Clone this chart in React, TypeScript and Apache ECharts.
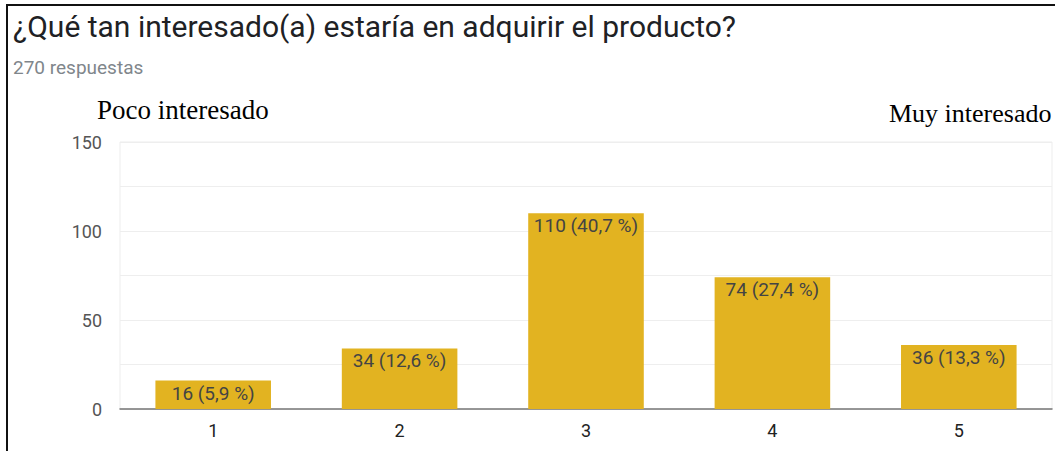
import React, { useEffect, useRef } from "react";
import * as echarts from "echarts";

const categories = ["1", "2", "3", "4", "5"];
const counts = [16, 34, 110, 74, 36];
const percents = ["5,9", "12,6", "40,7", "27,4", "13,3"];
const title = "¿Qué tan interesado(a) estaría en adquirir el producto?";
const subtitle = "270 respuestas";
const leftNote = "Poco interesado";
const rightNote = "Muy interesado";

export default function App() {
  const ref = useRef<HTMLDivElement>(null);
  useEffect(() => {
    const chart = echarts.init(ref.current!, null, { renderer: "svg" });
    chart.setOption({
      animation: false,
      backgroundColor: "#ffffff",
      grid: {
        left: 120,
        right: 3,
        top: 142,
        bottom: 42,
        show: true,
        borderColor: "#ededed",
        borderWidth: 1,
      },
      xAxis: {
        type: "category",
        data: categories,
        axisLine: { lineStyle: { color: "#777777", width: 1.5 } },
        axisTick: { show: false },
        axisLabel: {
          color: "#222222",
          fontSize: 18,
          fontFamily: "Roboto",
          margin: 12,
        },
      },
      yAxis: {
        type: "value",
        min: 0,
        max: 150,
        interval: 25,
        axisLine: { show: false },
        axisTick: { show: false },
        splitLine: { lineStyle: { color: "#eeeeee", width: 1 } },
        axisLabel: {
          color: "#555555",
          fontSize: 18,
          fontFamily: "Roboto",
          margin: 18,
          formatter: (v: number) => (v % 50 === 0 ? String(v) : ""),
        },
      },
      series: [
        {
          type: "bar",
          data: counts,
          barCategoryGap: "38%",
          itemStyle: { color: "#E2B321" },
          label: {
            show: true,
            position: "insideTop",
            distance: 3,
            color: "#444444",
            fontSize: 19,
            fontFamily: "Roboto",
            formatter: (p: any) => `${p.value} (${percents[p.dataIndex]} %)`,
          },
        },
      ],
      graphic: [
        {
          type: "line",
          shape: { x1: 7, y1: 5, x2: 1055, y2: 5 },
          style: { stroke: "#111111", lineWidth: 2 },
        },
        {
          type: "line",
          shape: { x1: 7, y1: 4, x2: 7, y2: 451 },
          style: { stroke: "#111111", lineWidth: 2 },
        },
        {
          type: "text",
          x: 13,
          y: 11,
          style: {
            text: title,
            font: "30px Roboto",
            fill: "#202124",
          },
        },
        {
          type: "text",
          x: 13,
          y: 58,
          style: {
            text: subtitle,
            font: "19px Roboto",
            fill: "#80868b",
          },
        },
        {
          type: "text",
          x: 97,
          y: 96,
          style: {
            text: leftNote,
            font: "27px 'Liberation Serif', 'Times New Roman', serif",
            fill: "#000000",
          },
        },
        {
          type: "text",
          x: 889,
          y: 100,
          style: {
            text: rightNote,
            font: "26px 'Liberation Serif', 'Times New Roman', serif",
            fill: "#000000",
          },
        },
      ],
    });
    return () => chart.dispose();
  }, []);
  return (
    <div
      ref={ref}
      style={{ position: "fixed", left: 0, top: 0, width: 1055, height: 451 }}
    />
  );
}
